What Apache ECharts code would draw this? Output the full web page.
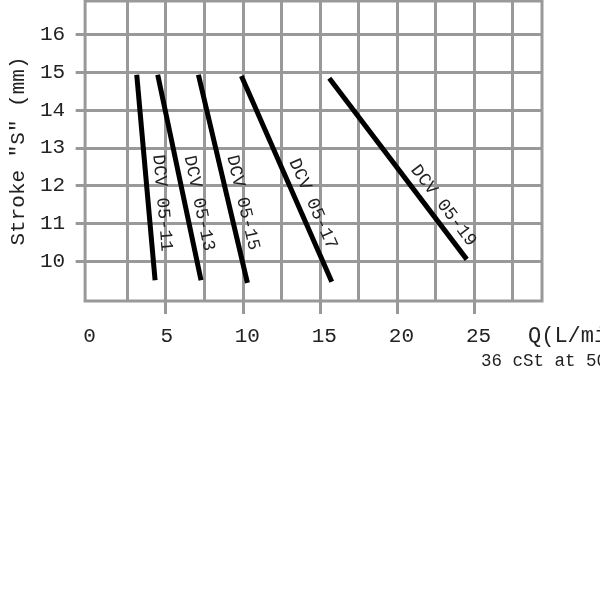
<!DOCTYPE html>
<html><head><meta charset="utf-8">
<script src="https://cdn.jsdelivr.net/npm/echarts@6/dist/echarts.min.js"></script>
<style>html,body{margin:0;padding:0;background:#fff}#c{width:600px;height:600px}</style>
</head><body><div id="c"></div>
<script>
// ---- data ----
const valveNames = ['DCV 05-11', 'DCV 05-13', 'DCV 05-15', 'DCV 05-17', 'DCV 05-19'];
const flowStart = [3.12, 4.48, 7.12, 9.91, 15.61];
const strokeStart = [14.93, 14.93, 14.93, 14.9, 14.84];
const flowEnd = [4.31, 7.29, 10.30, 15.77, 24.53];
const strokeEnd = [9.5, 9.5, 9.43, 9.46, 10.05];
const xTickValues = [5, 10, 15, 20, 25];
const xLabelValues = [0, 5, 10, 15, 20, 25];
const xGridValues = [2.5, 5, 7.5, 10, 12.5, 15, 17.5, 20, 22.5, 25, 27.5];
const yTickValues = [10, 11, 12, 13, 14, 15, 16];
const xTitle = 'Q(L/min)';
const xSubtitle = '36 cSt at 50°C';
const yTitle = 'Stroke "S" (mm)';

// ---- style ----
const FONT = '"Liberation Mono", "Courier New", monospace';
const GRAY = '#999';
const TEXT = '#222';
const labelAt = [0.63, 0.64, 0.63, 0.65, 0.75];

const series = valveNames.map((name, i) => {
  const dx = flowEnd[i] - flowStart[i], dy = strokeEnd[i] - strokeStart[i];
  const a = labelAt[i] - 0.05, b = labelAt[i] + 0.05;
  return {
    type: 'line', name: name, xAxisIndex: 0, yAxisIndex: 0,
    data: [[flowStart[i], strokeStart[i]], [flowEnd[i], strokeEnd[i]]],
    symbol: 'none', showSymbol: false, silent: true, animation: false,
    lineStyle: { color: '#000', width: 5, cap: 'butt' },
    markLine: {
      silent: true, symbol: ['none', 'none'], animation: false,
      lineStyle: { color: 'rgba(0,0,0,0)', width: 1, type: 'solid' },
      label: { show: true, position: 'insideMiddleTop', distance: 5, formatter: name,
               fontFamily: FONT, fontSize: 18, color: TEXT, opacity: 1 },
      emphasis: { disabled: true },
      data: [[{ coord: [flowStart[i] + dx * a, strokeStart[i] + dy * a] },
              { coord: [flowStart[i] + dx * b, strokeStart[i] + dy * b] }]]
    }
  };
});

const labelRich = {
  one: { fontFamily: FONT, fontSize: 21, color: TEXT, padding: [0, 0, 0, 2] },
  two: { fontFamily: FONT, fontSize: 21, color: TEXT, padding: [0, 0, 0, 9] }
};

const chart = echarts.init(document.getElementById('c'), null, { renderer: 'canvas' });
chart.setOption({
  animation: false,
  backgroundColor: '#fff',
  grid: { left: 85, right: 58, top: 1, bottom: 299, show: true, borderColor: GRAY, borderWidth: 3, backgroundColor: 'transparent' },
  title: [
    { text: xTitle, left: 528, top: 325, padding: 0,
      textStyle: { fontFamily: FONT, fontSize: 22, fontWeight: 'normal', color: TEXT } },
    { text: xSubtitle, left: 481, top: 352, padding: 0,
      textStyle: { fontFamily: FONT, fontSize: 17.5, fontWeight: 'normal', color: TEXT } }
  ],
  xAxis: [
    { type: 'value', min: -0.23, max: 29.41, position: 'bottom',
      axisLine: { show: false },
      axisTick: { show: false, customValues: xGridValues },
      axisLabel: { show: false },
      splitLine: { show: true, lineStyle: { color: GRAY, width: 3 } } },
    { type: 'value', min: -0.23, max: 29.41, position: 'bottom',
      axisLine: { show: false },
      axisTick: { show: true, customValues: xTickValues, length: 13, lineStyle: { color: GRAY, width: 3 } },
      axisLabel: { show: true, customValues: xLabelValues, margin: 25, fontFamily: FONT, fontSize: 21, color: TEXT,
                   formatter: v => (String(v).length > 1 ? '{two|' + v + '}' : '{one|' + v + '}'), rich: labelRich },
      splitLine: { show: false } }
  ],
  yAxis: {
    type: 'value', min: 8.95, max: 16.88,
    axisLine: { show: false },
    axisTick: { show: true, customValues: yTickValues, length: 13, lineStyle: { color: GRAY, width: 3 } },
    axisLabel: { customValues: yTickValues, margin: 20, fontFamily: FONT, fontSize: 21, color: TEXT },
    splitLine: { show: true, lineStyle: { color: GRAY, width: 3 } },
    name: yTitle, nameLocation: 'middle', nameGap: 56,
    nameTextStyle: { fontFamily: FONT, fontSize: 21, color: TEXT }
  },
  series: series
});
</script>
</body></html>
